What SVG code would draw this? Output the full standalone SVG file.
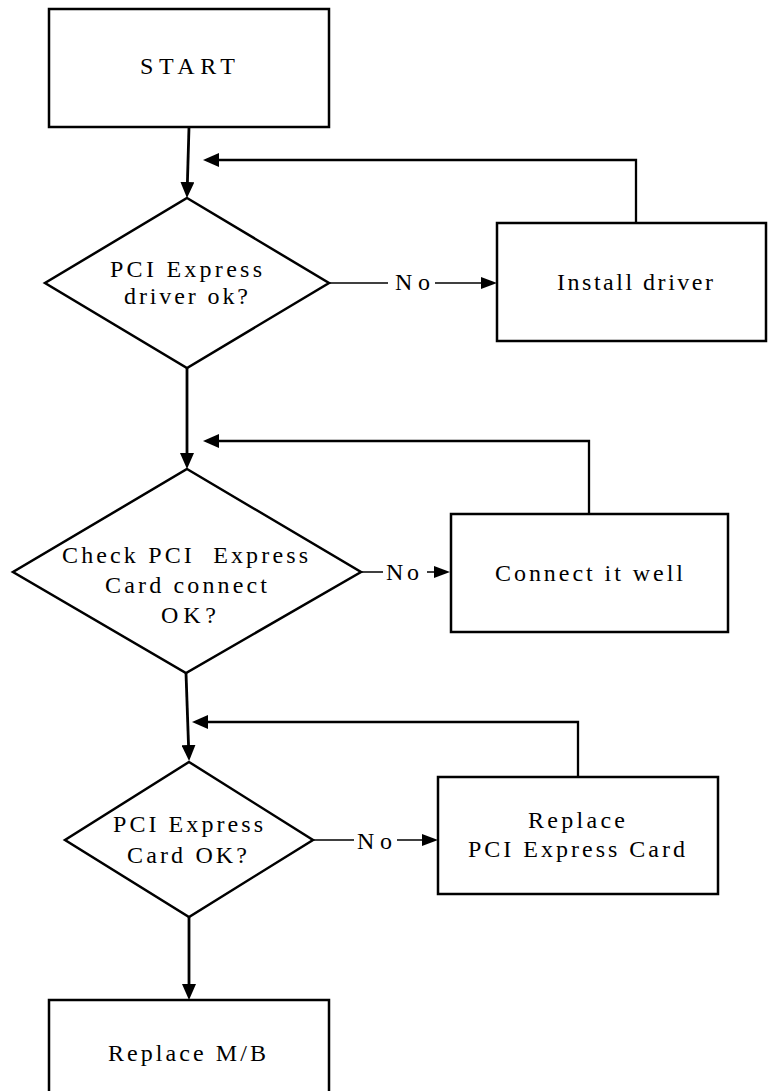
<svg xmlns="http://www.w3.org/2000/svg" width="768" height="1091" viewBox="0 0 768 1091">
<defs>
<style>
.box{fill:#fff;stroke:#000;stroke-width:2.5}
.lbl{font-family:'Liberation Serif','Times New Roman',serif;font-size:24px;fill:#000}
.flow{fill:none;stroke:#000;stroke-width:2.8}
.back{fill:none;stroke:#000;stroke-width:2.3}
.no{fill:none;stroke:#000;stroke-width:1.5}
</style>
<marker id="ah" viewBox="0 0 16 14" markerWidth="16" markerHeight="14" refX="8" refY="7" orient="auto" markerUnits="userSpaceOnUse"><path d="M0,0 L16,7 L0,14 z" fill="#000"/></marker>
<marker id="ahs" viewBox="0 0 16 12" markerWidth="16" markerHeight="12" refX="8" refY="6" orient="auto" markerUnits="userSpaceOnUse"><path d="M0,0 L16,6 L0,12 z" fill="#000"/></marker>
</defs>
<rect width="768" height="1091" fill="#fff"/>

<g id="connectors">
<path class="flow" d="M189,127 L187.2,190" marker-end="url(#ah)"/>
<path class="back" d="M636,223 L636,160 L211,160" marker-end="url(#ah)"/>
<path class="no" d="M329,283 L388,283"/>
<path class="no" d="M435,283 L489,283" marker-end="url(#ahs)"/>
<path class="flow" d="M187,368 L187,461" marker-end="url(#ah)"/>
<path class="back" d="M589,514 L589,441 L211,441" marker-end="url(#ah)"/>
<path class="no" d="M361,572 L383,572"/>
<path class="no" d="M427,572 L442,572" marker-end="url(#ahs)"/>
<path class="flow" d="M186,673 L188.8,753" marker-end="url(#ah)"/>
<path class="back" d="M578,777 L578,722 L200,722" marker-end="url(#ah)"/>
<path class="no" d="M313,840 L354,840"/>
<path class="no" d="M397,840 L430,840" marker-end="url(#ahs)"/>
<path class="flow" d="M189,917 L189,992" marker-end="url(#ah)"/>
</g>

<g id="start">
<rect class="box" x="49" y="9" width="280" height="118"/>
<text class="lbl" x="140" y="74" textLength="95" lengthAdjust="spacing">START</text>
</g>

<g id="dec1">
<polygon class="box" points="187,198 329,283 187,368 45,283"/>
<text class="lbl" x="110" y="277" textLength="152" lengthAdjust="spacing">PCI Express</text>
<text class="lbl" x="124" y="304" textLength="124" lengthAdjust="spacing">driver ok?</text>
</g>

<g id="install">
<rect class="box" x="497" y="223" width="269" height="118"/>
<text class="lbl" x="557" y="290" textLength="156" lengthAdjust="spacing">Install driver</text>
</g>

<g id="dec2">
<polygon class="box" points="187,469 361,572 186,673 13,572"/>
<text class="lbl" x="62" y="563" textLength="246" lengthAdjust="spacing">Check PCI&#160; Express</text>
<text class="lbl" x="105" y="593" textLength="162" lengthAdjust="spacing">Card connect</text>
<text class="lbl" x="161" y="623" textLength="55" lengthAdjust="spacing">OK?</text>
</g>

<g id="connect">
<rect class="box" x="451" y="514" width="277" height="118"/>
<text class="lbl" x="495" y="581" textLength="188" lengthAdjust="spacing">Connect it well</text>
</g>

<g id="dec3">
<polygon class="box" points="189,762 313,840 189,917 65,840"/>
<text class="lbl" x="113" y="832" textLength="150" lengthAdjust="spacing">PCI Express</text>
<text class="lbl" x="127" y="863" textLength="120" lengthAdjust="spacing">Card OK?</text>
</g>

<g id="replace-card">
<rect class="box" x="438" y="777" width="280" height="117"/>
<text class="lbl" x="528" y="828" textLength="97" lengthAdjust="spacing">Replace</text>
<text class="lbl" x="468" y="857" textLength="217" lengthAdjust="spacing">PCI Express Card</text>
</g>

<g id="replace-mb">
<rect class="box" x="49" y="1000" width="280" height="110"/>
<text class="lbl" x="108" y="1061" textLength="158" lengthAdjust="spacing">Replace M/B</text>
</g>

<g id="no-labels">
<text class="lbl" x="395" y="290" textLength="35" lengthAdjust="spacing">No</text>
<text class="lbl" x="386" y="580" textLength="33" lengthAdjust="spacing">No</text>
<text class="lbl" x="357" y="849" textLength="35" lengthAdjust="spacing">No</text>
</g>
</svg>
